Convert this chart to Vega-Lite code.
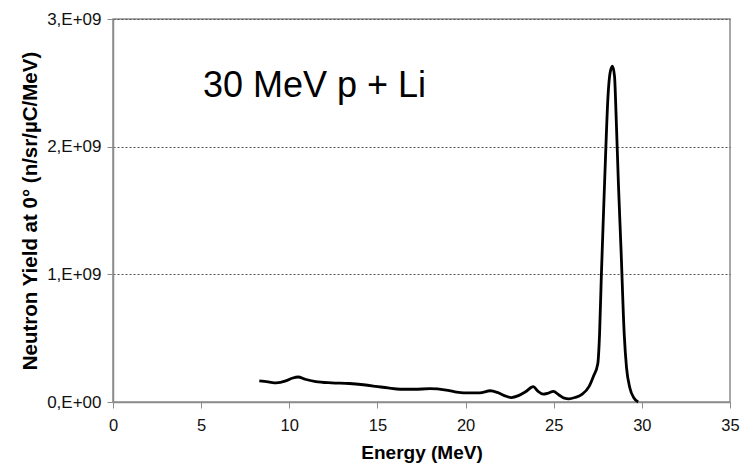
{
  "$schema": "https://vega.github.io/schema/vega-lite/v6.json",
  "width": 617,
  "height": 383,
  "autosize": {"type": "none"},
  "padding": {"left": 113, "top": 19, "right": 13, "bottom": 65},
  "background": "white",
  "config": {
    "font": "Liberation Sans",
    "view": {"stroke": "#8c8c8c", "strokeWidth": 1.5}
  },
  "datasets": {
    "spectrum": [
      {"E": 8.3, "Y": 165000000},
      {"E": 8.8, "Y": 158000000},
      {"E": 9.26, "Y": 150000000},
      {"E": 9.8, "Y": 165000000},
      {"E": 10.2, "Y": 188000000},
      {"E": 10.5, "Y": 196000000},
      {"E": 10.9, "Y": 178000000},
      {"E": 11.5, "Y": 160000000},
      {"E": 12.4, "Y": 150000000},
      {"E": 13.4, "Y": 145000000},
      {"E": 14.2, "Y": 135000000},
      {"E": 14.9, "Y": 123000000},
      {"E": 15.6, "Y": 110000000},
      {"E": 16.3, "Y": 100000000},
      {"E": 17.1, "Y": 100000000},
      {"E": 17.97, "Y": 104000000},
      {"E": 18.9, "Y": 93000000},
      {"E": 19.4, "Y": 80000000},
      {"E": 19.9, "Y": 72000000},
      {"E": 20.8, "Y": 72000000},
      {"E": 21.4, "Y": 88000000},
      {"E": 21.8, "Y": 75000000},
      {"E": 22.2, "Y": 50000000},
      {"E": 22.6, "Y": 35000000},
      {"E": 23.0, "Y": 50000000},
      {"E": 23.4, "Y": 80000000},
      {"E": 23.84, "Y": 120000000},
      {"E": 24.1, "Y": 85000000},
      {"E": 24.4, "Y": 61000000},
      {"E": 24.7, "Y": 70000000},
      {"E": 24.98, "Y": 83000000},
      {"E": 25.3, "Y": 55000000},
      {"E": 25.6, "Y": 30000000},
      {"E": 25.85, "Y": 25000000},
      {"E": 26.2, "Y": 35000000},
      {"E": 26.6, "Y": 60000000},
      {"E": 27.0, "Y": 120000000},
      {"E": 27.25, "Y": 200000000},
      {"E": 27.5, "Y": 300000000},
      {"E": 27.6, "Y": 530000000},
      {"E": 27.7, "Y": 980000000},
      {"E": 27.83, "Y": 1500000000},
      {"E": 27.96, "Y": 2000000000},
      {"E": 28.07, "Y": 2370000000},
      {"E": 28.2, "Y": 2580000000},
      {"E": 28.33, "Y": 2630000000},
      {"E": 28.45, "Y": 2550000000},
      {"E": 28.54, "Y": 2240000000},
      {"E": 28.67, "Y": 1710000000},
      {"E": 28.82, "Y": 1190000000},
      {"E": 29.0, "Y": 530000000},
      {"E": 29.13, "Y": 270000000},
      {"E": 29.32, "Y": 110000000},
      {"E": 29.56, "Y": 30000000},
      {"E": 29.79, "Y": 0}
    ],
    "note": [
      {"E": 5.1, "Y": 2390000000, "label": "30 MeV p + Li"}
    ]
  },
  "encoding": {
    "x": {
      "field": "E",
      "type": "quantitative",
      "scale": {"domain": [0, 35], "nice": false, "zero": false},
      "axis": {
        "values": [0, 5, 10, 15, 20, 25, 30, 35],
        "grid": false,
        "labelFlush": false,
        "labelOverlap": false,
        "domainColor": "#8c8c8c",
        "domainWidth": 1.5,
        "tickColor": "#8c8c8c",
        "tickSize": 6,
        "labelFontSize": 16.5,
        "labelColor": "#111",
        "labelPadding": 9,
        "title": "Energy (MeV)",
        "titleFontSize": 19,
        "titleFontWeight": "bold",
        "titleColor": "#000",
        "titlePadding": 10
      }
    },
    "y": {
      "field": "Y",
      "type": "quantitative",
      "scale": {"domain": [0, 3000000000], "nice": false},
      "axis": {
        "values": [0, 1000000000, 2000000000, 3000000000],
        "labelExpr": "datum.value == 0 ? '0,E+00' : format(datum.value / 1e9, 'd') + ',E+09'",
        "grid": true,
        "gridDash": [2, 2],
        "gridColor": "#555",
        "gridWidth": 1,
        "labelFlush": false,
        "labelOverlap": false,
        "domainColor": "#8c8c8c",
        "domainWidth": 1.5,
        "tickColor": "#8c8c8c",
        "tickSize": 6,
        "labelFontSize": 17,
        "labelColor": "#111",
        "labelPadding": 6,
        "title": "Neutron Yield at 0° (n/sr/µC/MeV)",
        "titleFontSize": 20.5,
        "titleFontWeight": "bold",
        "titleColor": "#000",
        "titlePadding": 6
      }
    }
  },
  "layer": [
    {
      "data": {"name": "spectrum"},
      "mark": {"type": "line", "interpolate": "monotone", "color": "#000", "strokeWidth": 2.8}
    },
    {
      "data": {"name": "note"},
      "mark": {"type": "text", "align": "left", "baseline": "alphabetic", "fontSize": 36, "color": "#000"},
      "encoding": {"text": {"field": "label"}}
    }
  ]
}
